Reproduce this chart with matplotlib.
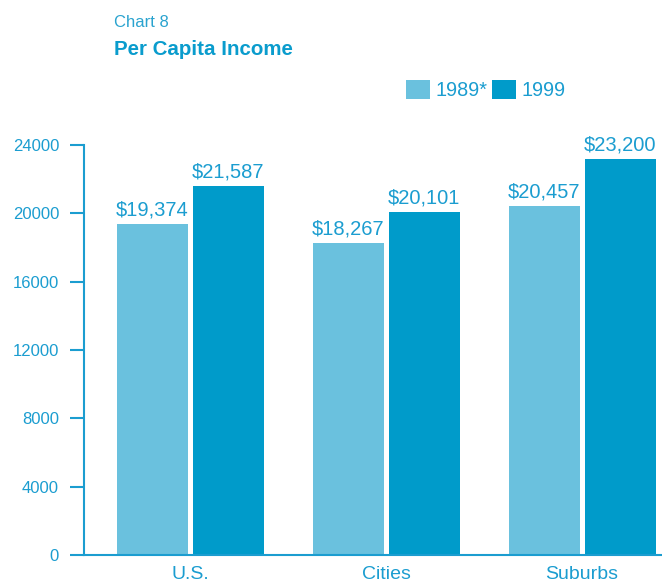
import matplotlib
matplotlib.use("Agg")
from matplotlib import pyplot as plt
import numpy as np

categories = ["U.S.", "Cities", "Suburbs"]
income_1989 = [19374, 18267, 20457]
income_1999 = [21587, 20101, 23200]
series_names = ["1989*", "1999"]
yticks = [0, 4000, 8000, 12000, 16000, 20000, 24000]

light = "#6ac1de"
dark = "#009bca"
teal = "#1b9dd0"

plt.rcParams["font.family"] = ["Liberation Sans", "DejaVu Sans"]

fig = plt.figure(figsize=(6.62, 5.83), dpi=100)
ax = fig.add_axes([84 / 662, 28 / 583, 578 / 662, 410 / 583])

x = np.arange(len(categories))
w = 0.362
off = 0.194
b1 = ax.bar(x - off, income_1989, w, color=light, label=series_names[0])
b2 = ax.bar(x + off, income_1999, w, color=dark, label=series_names[1])

# value labels above each bar
for bars, vals in [(b1, income_1989), (b2, income_1999)]:
    for bar, v in zip(bars, vals):
        ax.annotate("${:,}".format(v), (bar.get_x() + bar.get_width() / 2, v),
                    xytext=(0, 6), textcoords="offset points",
                    ha="center", va="baseline", fontsize=14.5, color=teal)

ax.set_xlim(-0.543, 2.408)
ax.set_ylim(0, 24000)
ax.set_yticks(yticks)
ax.set_yticklabels([str(t) for t in yticks])
ax.set_xticks(x)
ax.set_xticklabels(categories)

for s in ["top", "right"]:
    ax.spines[s].set_visible(False)
ax.spines["left"].set_color(teal)
ax.spines["bottom"].set_color(teal)
ax.spines["left"].set_linewidth(1.5)
ax.spines["bottom"].set_linewidth(1.5)
ax.spines["left"].set_bounds(0, 24000)

ax.tick_params(axis="y", length=10, width=1.5, color=teal, pad=8,
               labelsize=12, labelcolor=teal)
ax.tick_params(axis="x", length=0, pad=8, labelsize=14, labelcolor=teal)

fig.text(114 / 662, 1 - 27 / 583, "Chart 8", fontsize=12, color="#2aa3cf",
         ha="left", va="baseline")
fig.text(114 / 662, 1 - 55 / 583, "Per Capita Income", fontsize=14.8,
         fontweight="bold", color="#0a9ccd", ha="left", va="baseline")

leg = fig.legend(handles=[b1, b2], labels=series_names, loc="center left",
                 bbox_to_anchor=(406 / 662, 1 - 90 / 583), ncol=2,
                 frameon=False, fontsize=14.3, handlelength=1.2,
                 handleheight=1.15, handletextpad=0.3, columnspacing=0.2,
                 borderpad=0, borderaxespad=0)
for t in leg.get_texts():
    t.set_color(teal)

fig.savefig("out.png", dpi=100)
